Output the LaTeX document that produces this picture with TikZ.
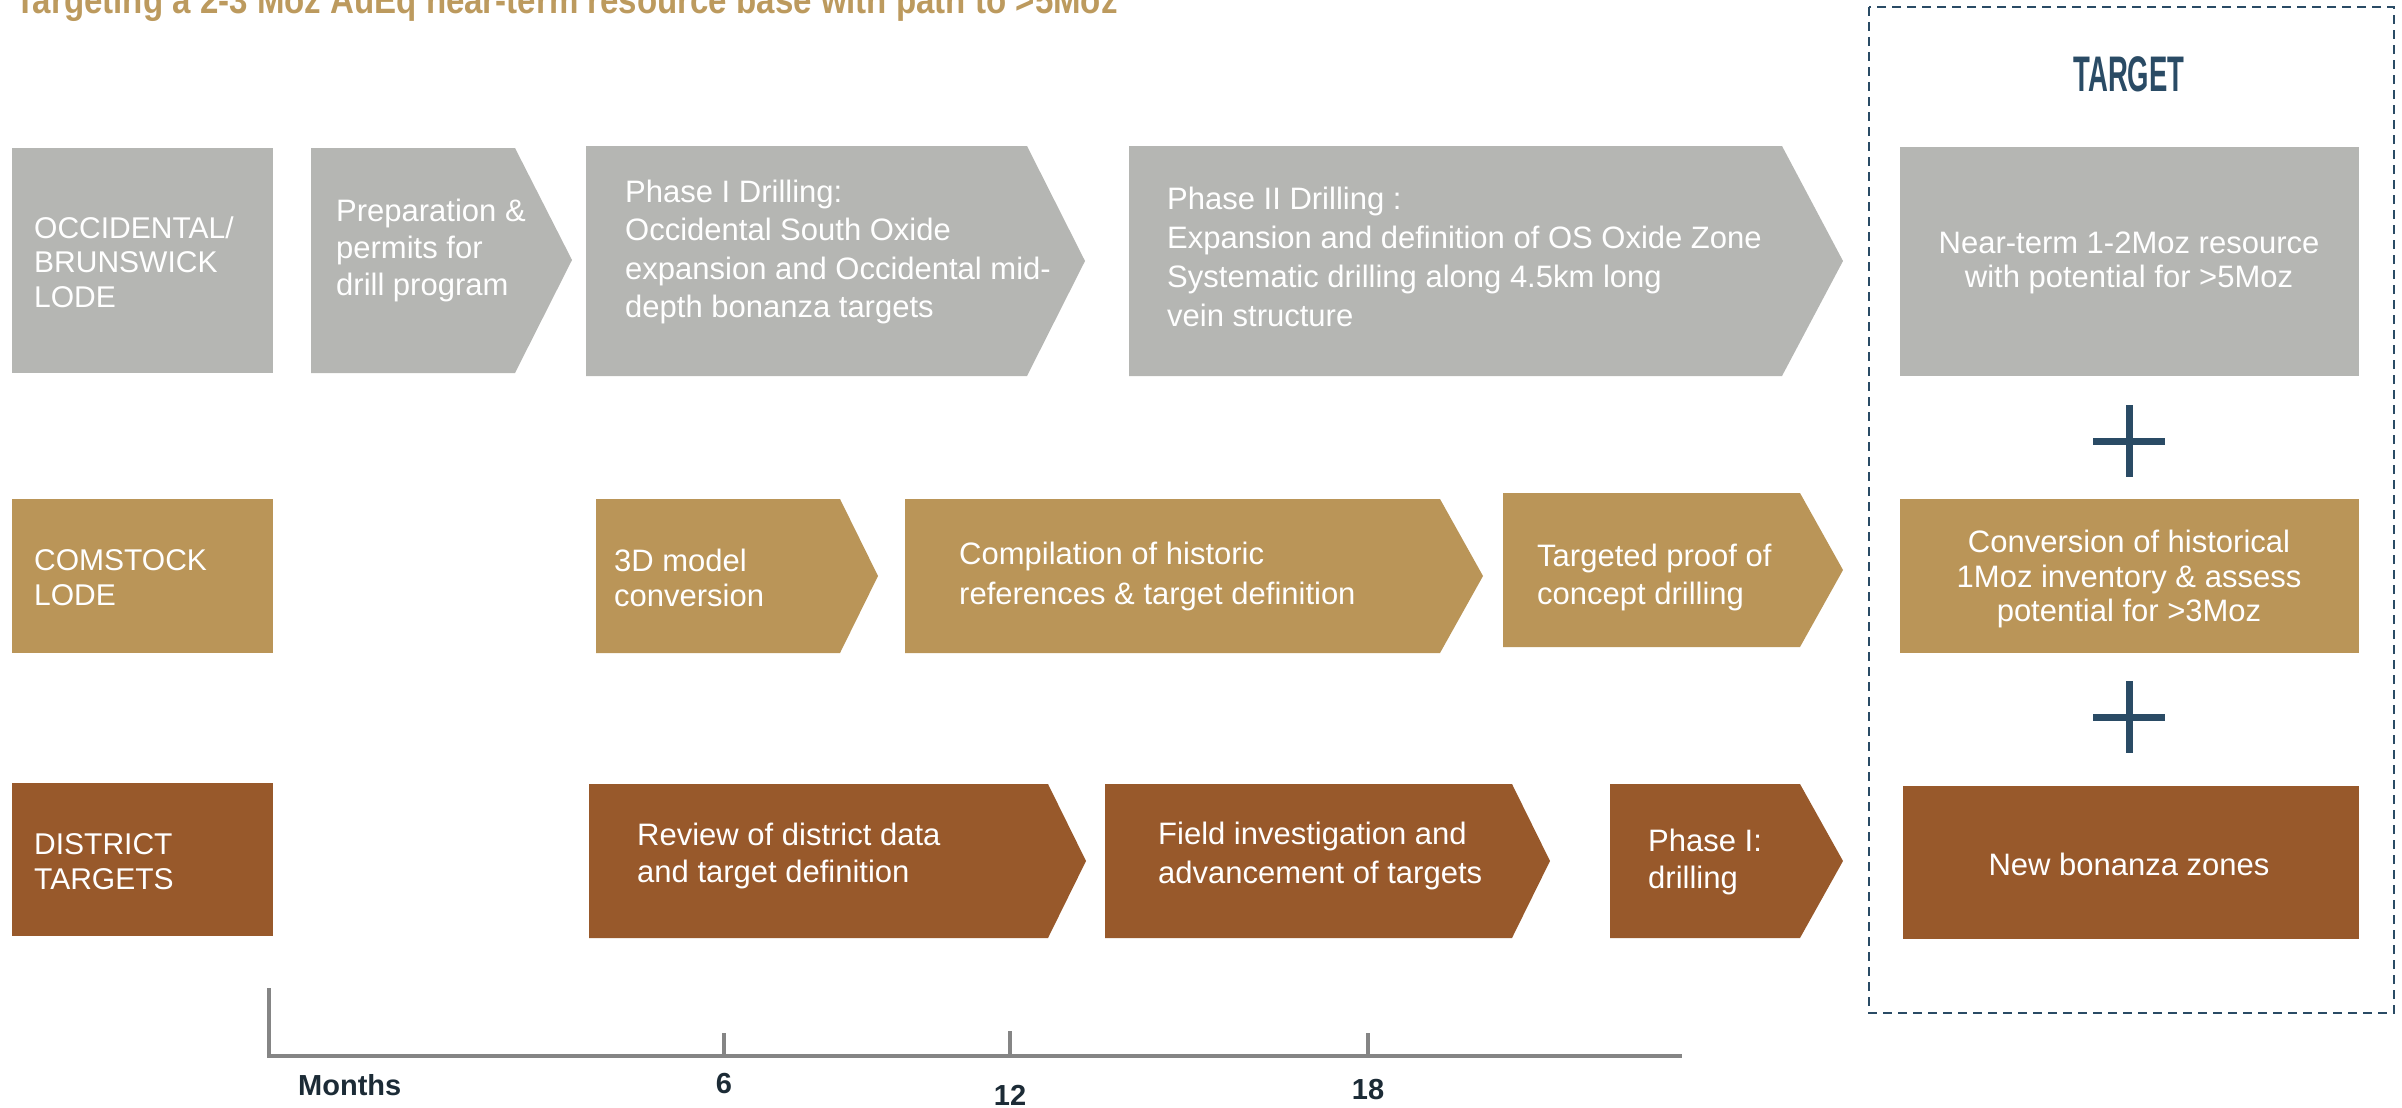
\documentclass[tikz,border=0pt]{standalone}
\usepackage{fontspec}
\usetikzlibrary{calc}
\setmainfont{Liberation Sans}
\newfontfamily\titlefont[FakeStretch=0.87]{Liberation Sans}
\newfontfamily\targetfont[FakeStretch=0.55]{Liberation Sans}
\definecolor{cgray}{HTML}{B5B6B3}
\definecolor{cgold}{HTML}{BA9558}
\definecolor{cbrown}{HTML}{98592B}
\definecolor{ctitle}{HTML}{BC9A5E}
\definecolor{cnavy}{HTML}{2A4B65}
\definecolor{cdark}{HTML}{1C2B36}
\definecolor{cline}{HTML}{858585}
\newcommand\bodyfont{\fontsize{31}{37}\selectfont}
\tikzset{
  txt/.style={text=white, font=\bodyfont, align=left, anchor=west, inner sep=0pt},
  ctxt/.style={text=white, font=\bodyfont, align=center, inner sep=0pt},
  axislab/.style={text=cdark, font=\bfseries\fontsize{29}{31}\selectfont, inner sep=0pt, anchor=base},
  axisline/.style={draw=cline, line width=3.5pt},
  plusline/.style={draw=cnavy, line width=7pt},
}
\begin{document}
\begin{tikzpicture}[x=1pt,y=-1pt]
\useasboundingbox (0,0) rectangle (2402,1108);
\clip (0,0) rectangle (2402,1108);

% title
\node[anchor=base west, text=ctitle, font=\titlefont\bfseries\fontsize{38}{40}\selectfont, inner sep=0pt] (title) at (15,14) {Targeting a 2-3 Moz AuEq near-term resource base with path to >5Moz};

% dashed target frame
\draw[cnavy, line width=2.5pt, dash pattern=on 9pt off 6pt] (1869,7) rectangle (2394,1013);
\node[anchor=base, text=cnavy, font=\targetfont\bfseries\fontsize{50}{52}\selectfont, inner sep=0pt] (target) at (2129,92) {TARGET};

% ---------- Row 1 (gray)
\fill[cgray] (12,148) rectangle (273,373);
\fill[cgray] (311,148) -- (515,148) -- (572,260) -- (515,373) -- (311,373) -- cycle;
\fill[cgray] (586,146) -- (1027,146) -- (1085,261) -- (1027,376) -- (586,376) -- cycle;
\fill[cgray] (1129,146) -- (1782,146) -- (1843,261) -- (1782,376) -- (1129,376) -- cycle;
\fill[cgray] (1900,147) rectangle (2359,376);

\node[txt, font=\fontsize{30}{34.5}\selectfont] (l1) at (34,262) {OCCIDENTAL/\\BRUNSWICK\\LODE};
\node[txt] (a1) at (336,250) {Preparation \&\\permits for\\drill program};
\node[txt, font=\fontsize{31}{38.5}\selectfont] (a2) at (625,252) {Phase I Drilling:\\Occidental South Oxide\\expansion and Occidental mid-\\depth bonanza targets};
\node[txt, font=\fontsize{31}{39}\selectfont] (a3) at (1167,257) {Phase II Drilling :\\Expansion and definition of OS Oxide Zone\\Systematic drilling along 4.5km long\\vein structure};
\node[ctxt, font=\fontsize{31}{34}\selectfont] (t1) at (2129,263) {Near-term 1-2Moz resource\\with potential for >5Moz};

% plus 1
\coordinate (p1) at (2129,441);
\draw[plusline] ($(p1)+(-36,0)$) -- ($(p1)+(36,0)$);
\draw[plusline] ($(p1)+(0,-36)$) -- ($(p1)+(0,36)$);

% ---------- Row 2 (gold)
\fill[cgold] (12,499) rectangle (273,653);
\fill[cgold] (596,499) -- (840,499) -- (878,576) -- (840,653) -- (596,653) -- cycle;
\fill[cgold] (905,499) -- (1440,499) -- (1483,576) -- (1440,653) -- (905,653) -- cycle;
\fill[cgold] (1503,493) -- (1800,493) -- (1843,570) -- (1800,647) -- (1503,647) -- cycle;
\fill[cgold] (1900,499) rectangle (2359,653);

\node[txt, font=\fontsize{30}{35}\selectfont] (l2) at (34,578) {COMSTOCK\\LODE};
\node[txt, font=\fontsize{31}{35}\selectfont] (b1) at (614,578) {3D model\\conversion};
\node[txt, font=\fontsize{31}{40}\selectfont] (b2) at (959,576) {Compilation of historic\\references \& target definition};
\node[txt, font=\fontsize{31}{38}\selectfont] (b3) at (1537,577) {Targeted proof of\\concept drilling};
\node[ctxt, font=\fontsize{31}{34.5}\selectfont] (t2) at (2129,579) {Conversion of historical\\1Moz inventory \& assess\\potential for >3Moz};

% plus 2
\coordinate (p2) at (2129,717);
\draw[plusline] ($(p2)+(-36,0)$) -- ($(p2)+(36,0)$);
\draw[plusline] ($(p2)+(0,-36)$) -- ($(p2)+(0,36)$);

% ---------- Row 3 (brown)
\fill[cbrown] (12,783) rectangle (273,936);
\fill[cbrown] (589,784) -- (1048,784) -- (1086,861) -- (1048,938) -- (589,938) -- cycle;
\fill[cbrown] (1105,784) -- (1512,784) -- (1550,861) -- (1512,938) -- (1105,938) -- cycle;
\fill[cbrown] (1610,784) -- (1800,784) -- (1843,861) -- (1800,938) -- (1610,938) -- cycle;
\fill[cbrown] (1903,786) rectangle (2359,939);

\node[txt, font=\fontsize{30}{35}\selectfont] (l3) at (34,862) {DISTRICT\\TARGETS};
\node[txt, font=\fontsize{31}{37.5}\selectfont] (c1) at (637,856) {Review of district data\\and target definition};
\node[txt, font=\fontsize{31}{38.5}\selectfont] (c2) at (1158,856) {Field investigation and\\advancement of targets};
\node[txt, font=\fontsize{31}{37}\selectfont] (c3) at (1648,862) {Phase I:\\drilling};
\node[ctxt] (t3) at (2129,864) {New bonanza zones};

% ---------- timeline
\coordinate (o) at (269,1056);
\coordinate (vtop) at (269,988);
\coordinate (hend) at (1682,1056);
\coordinate (k6) at (724,1056);
\coordinate (k12) at (1010,1056);
\coordinate (k18) at (1368,1056);
\draw[axisline] (vtop) -- (o) -- (hend);
\draw[axisline] (k6) -- ++(0,-23);
\draw[axisline] (k12) -- ++(0,-25);
\draw[axisline] (k18) -- ++(0,-23);

\node[axislab, anchor=base west] (months) at (298,1095) {Months};
\node[axislab] (m6) at (724,1093) {6};
\node[axislab] (m12) at (1010,1105) {12};
\node[axislab] (m18) at (1368,1099) {18};
\end{tikzpicture}
\end{document}
